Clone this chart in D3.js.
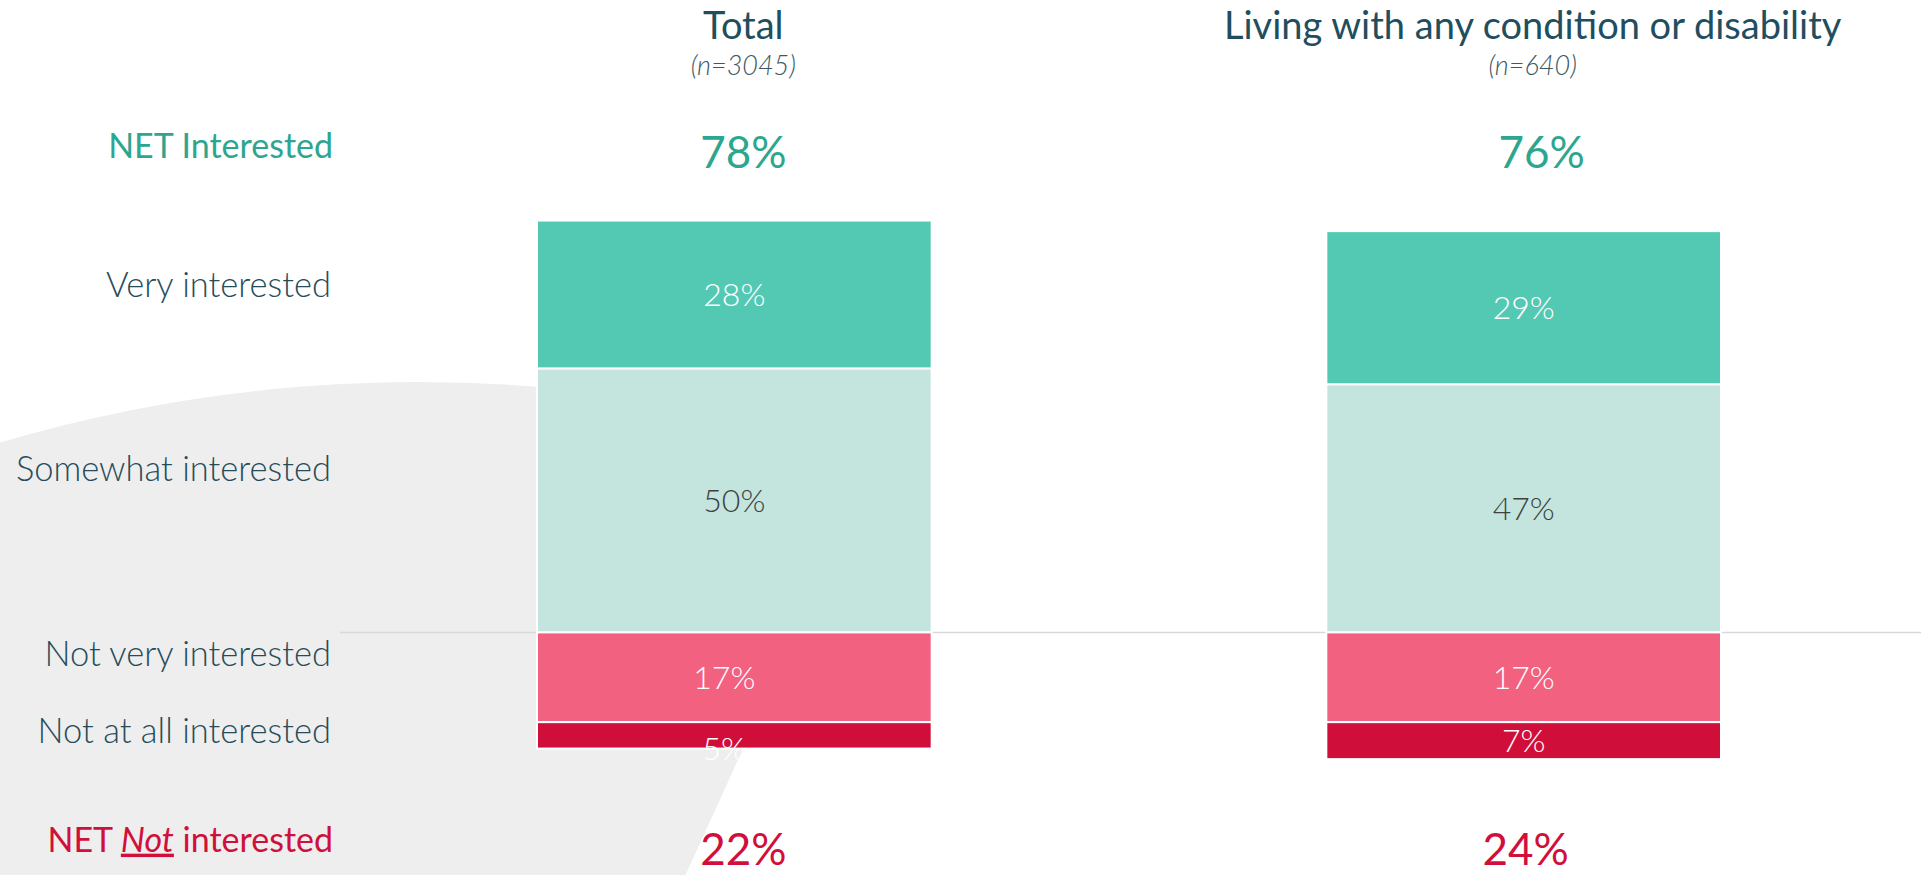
<!DOCTYPE html>
<html>
<head>
<meta charset="utf-8">
<script src="https://cdn.jsdelivr.net/npm/d3@7"></script>
<style>
  html, body { margin: 0; padding: 0; background: #ffffff; }
  svg { display: block; }
  text { font-family: Lato, "Open Sans", sans-serif; }
</style>
</head>
<body>
<svg id="chart" width="1921" height="875"></svg>
<script>
// ---- data ----
const groups = ["Total", "Living with any condition or disability"];
const sampleSizes = ["(n=3045)", "(n=640)"];
const categories = ["Very interested", "Somewhat interested", "Not very interested", "Not at all interested"];
const veryInterested = [28, 29];
const somewhatInterested = [50, 47];
const notVeryInterested = [17, 17];
const notAtAllInterested = [5, 7];
const netInterested = [78, 76];
const netNotInterested = [22, 24];

// ---- styling ----
const segColors = ["#53c9b4", "#c3e5de", "#f2617f", "#cf0f3a"];
const segText = ["#ffffff", "#404040", "#ffffff", "#ffffff"];
const teal = "#2ea68f";
const red = "#d0103a";
const slate = "#264c5a";

const W = 1921, H = 875;
const svg = d3.select("#chart");

const x = d3.scaleBand().domain(groups).range([537, 1721]).paddingInner(0.5).paddingOuter(0);
const y = d3.scaleLinear().domain([0, 100]).range([632.4, 104.4]);
const mid = g => x(g) + x.bandwidth() / 2;

// ---- soft grey backdrop shape ----
const bg = d3.path();
const cx = 419, cy = 1862, r = 1480;
const a0 = Math.atan2(443.6 - cy, -10 - cx);
const a1 = Math.atan2(-Math.sqrt(r * r - 201 * 201), 201);
bg.moveTo(-10, cy + r * Math.sin(a0));
bg.arc(cx, cy, r, a0, a1, false);
bg.lineTo(800, 500);
bg.lineTo(743, 749);
bg.lineTo(681, 885);
bg.lineTo(-10, 885);
bg.closePath();
svg.append("path").attr("d", bg.toString()).attr("fill", "#eeeeee");

// ---- zero line ----
svg.append("line")
  .attr("x1", 340).attr("x2", W)
  .attr("y1", y(0)).attr("y2", y(0))
  .attr("stroke", "#d9d9d9").attr("stroke-width", 1.5);

// ---- stacked segments: positives upward, negatives downward ----
const segs = [];
groups.forEach((g, i) => {
  segs.push({ g, i, k: 1, v: somewhatInterested[i], y0: 0, y1: somewhatInterested[i] });
  segs.push({ g, i, k: 0, v: veryInterested[i], y0: somewhatInterested[i], y1: somewhatInterested[i] + veryInterested[i] });
  segs.push({ g, i, k: 2, v: notVeryInterested[i], y0: 0, y1: -notVeryInterested[i] });
  segs.push({ g, i, k: 3, v: notAtAllInterested[i], y0: -notVeryInterested[i], y1: -notVeryInterested[i] - notAtAllInterested[i] });
});

svg.append("g").selectAll("rect").data(segs).join("rect")
  .attr("x", d => x(d.g))
  .attr("width", x.bandwidth())
  .attr("y", d => Math.min(y(d.y0), y(d.y1)))
  .attr("height", d => Math.abs(y(d.y0) - y(d.y1)))
  .attr("fill", d => segColors[d.k])
  .attr("stroke", "#ffffff")
  .attr("stroke-width", 2);

// negative labels of the first column sit a little left of centre
const negLabelShift = [-10, 0];
svg.append("g").selectAll("text").data(segs).join("text")
  .attr("x", d => mid(d.g) + (d.k >= 2 ? negLabelShift[d.i] : 0))
  .attr("y", d => {
    const top = Math.min(y(d.y0), y(d.y1)), bot = Math.max(y(d.y0), y(d.y1));
    return (bot - top) < 30 ? bot : (top + bot) / 2;
  })
  .attr("dy", "0.36em")
  .attr("text-anchor", "middle")
  .attr("font-size", 32)
  .attr("font-weight", 300)
  .attr("fill", d => segText[d.k])
  .text(d => d.v + "%");

// ---- column headers ----
const headerShift = 9;
svg.append("g").selectAll("text").data(groups).join("text")
  .attr("x", d => mid(d) + headerShift).attr("y", 39)
  .attr("text-anchor", "middle")
  .attr("font-size", 38)
  .attr("fill", "#1f4e5f")
  .text(d => d);
svg.append("g").selectAll("text").data(groups).join("text")
  .attr("x", d => mid(d) + headerShift).attr("y", 75)
  .attr("text-anchor", "middle")
  .attr("font-size", 27)
  .attr("font-style", "italic")
  .attr("font-weight", 300)
  .attr("fill", "#3b5864")
  .text((d, i) => sampleSizes[i]);

// ---- NET figures ----
const topNetShift = [9, 18];
const bottomNetShift = [9, 2];
svg.append("g").selectAll("text").data(groups).join("text")
  .attr("x", (d, i) => mid(d) + topNetShift[i]).attr("y", 167.7)
  .attr("text-anchor", "middle")
  .attr("font-size", 44)
  .attr("fill", teal)
  .text((d, i) => netInterested[i] + "%");
svg.append("g").selectAll("text").data(groups).join("text")
  .attr("x", (d, i) => mid(d) + bottomNetShift[i]).attr("y", 865)
  .attr("text-anchor", "middle")
  .attr("font-size", 44)
  .attr("fill", red)
  .text((d, i) => netNotInterested[i] + "%");

// ---- row labels ----
const labelX = 331;
const rowBaselines = [297, 480.7, 666, 743.3];
svg.append("g").selectAll("text").data(categories).join("text")
  .attr("x", labelX).attr("y", (d, i) => rowBaselines[i])
  .attr("text-anchor", "end")
  .attr("font-size", 34.5)
  .attr("font-weight", 300)
  .attr("fill", slate)
  .text(d => d);

svg.append("text")
  .attr("x", labelX + 2).attr("y", 157.7)
  .attr("text-anchor", "end")
  .attr("font-size", 34)
  .attr("fill", teal)
  .text("NET Interested");

const netNot = svg.append("text")
  .attr("x", labelX + 2).attr("y", 851.7)
  .attr("text-anchor", "end")
  .attr("font-size", 34)
  .attr("fill", red);
netNot.append("tspan").text("NET ");
netNot.append("tspan").attr("font-style", "italic").attr("text-decoration", "underline").text("Not");
netNot.append("tspan").text(" interested");
</script>
</body>
</html>
